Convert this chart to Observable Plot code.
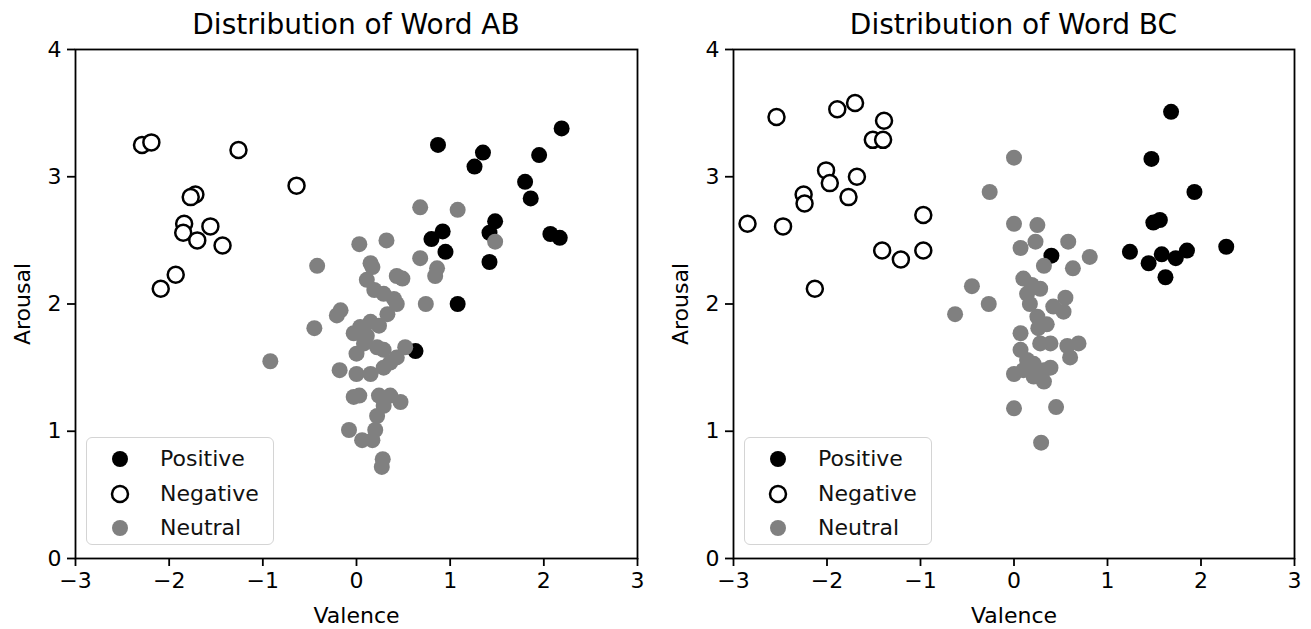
<!DOCTYPE html>
<html>
<head>
<meta charset="utf-8">
<script src="https://cdn.jsdelivr.net/npm/d3@7"></script>
<script src="https://cdn.jsdelivr.net/npm/@observablehq/plot@0.6"></script>
<style>
  html, body { margin: 0; padding: 0; background: #fff; }
  #root { position: relative; width: 1311px; height: 629px; overflow: hidden; font-family: "DejaVu Sans", sans-serif; }
  .panel { position: absolute; top: 0; height: 629px; }
  .title { position: absolute; top: 9px; font-size: 28px; line-height: 32px; color: #000; white-space: nowrap; transform: translateX(-50%); }
  .legend { position: absolute; left: 86px; top: 437px; width: 186px; height: 106px; border: 1.5px solid #d4d4d4; border-radius: 6px; background: rgba(255,255,255,0.85); }
  .legend .item { position: absolute; left: 0; height: 30px; font-size: 22px; line-height: 30px; color: #111; }
  .legend svg { position: absolute; left: 22px; top: 4px; }
  .legend span { position: absolute; left: 73px; top: 0; white-space: nowrap; }
  svg.plot { position: absolute; top: 0; left: 0; }
</style>
</head>
<body>
<div id="root"></div>
<script>
// ---------- data ----------
const categories = ["Positive", "Negative", "Neutral"];
const titles = ["Distribution of Word AB", "Distribution of Word BC"];
const xLabel = "Valence";
const yLabel = "Arousal";
const xTicks = [-3, -2, -1, 0, 1, 2, 3];
const yTicks = [0, 1, 2, 3, 4];

// Word AB
const abPositiveV = [0.87, 1.35, 1.26, 2.19, 1.95, 1.80, 1.86, 1.48, 1.42, 0.92, 0.80, 0.95, 1.42, 2.07, 2.17, 1.08, 0.63];
const abPositiveA = [3.25, 3.19, 3.08, 3.38, 3.17, 2.96, 2.83, 2.65, 2.56, 2.57, 2.51, 2.41, 2.33, 2.55, 2.52, 2.00, 1.63];
const abNegativeV = [-2.29, -2.19, -1.26, -0.64, -1.72, -1.77, -1.84, -1.85, -1.56, -1.70, -1.43, -1.93, -2.09];
const abNegativeA = [3.25, 3.27, 3.21, 2.93, 2.86, 2.84, 2.63, 2.56, 2.61, 2.50, 2.46, 2.23, 2.12];
const abNeutralV = [0.68, 1.08, 1.48, 0.03, 0.32, -0.42, 0.68, 0.86, 0.84, 0.74, -0.45,
  0.15, 0.17, 0.11, 0.43, 0.49, 0.19, 0.29, 0.40, 0.43, 0.33, -0.17, -0.21,
  -0.03, 0.04, 0.15, 0.24, 0.11, 0.08, 0.22, 0.29, 0.00, 0.52, 0.43, 0.36, 0.29, 0.15, 0.00, -0.18,
  -0.03, 0.03, 0.24, 0.36, 0.47, 0.29, 0.22, 0.20, -0.08, 0.06, 0.17, 0.28, 0.27, -0.92];
const abNeutralA = [2.76, 2.74, 2.49, 2.47, 2.50, 2.30, 2.36, 2.28, 2.22, 2.00, 1.81,
  2.32, 2.29, 2.19, 2.22, 2.20, 2.11, 2.08, 2.04, 2.00, 1.92, 1.95, 1.91,
  1.77, 1.82, 1.86, 1.83, 1.75, 1.69, 1.66, 1.64, 1.61, 1.66, 1.58, 1.54, 1.50, 1.45, 1.45, 1.48,
  1.27, 1.28, 1.28, 1.28, 1.23, 1.20, 1.12, 1.01, 1.01, 0.93, 0.93, 0.78, 0.72, 1.55];

// Word BC
const bcPositiveV = [1.68, 1.47, 1.93, 1.49, 1.56, 1.24, 1.44, 1.58, 1.73, 1.85, 2.27, 1.62, 0.40];
const bcPositiveA = [3.51, 3.14, 2.88, 2.64, 2.66, 2.41, 2.32, 2.39, 2.36, 2.42, 2.45, 2.21, 2.38];
const bcNegativeV = [-2.54, -1.89, -1.70, -1.39, -1.51, -1.40, -2.01, -1.97, -1.68, -2.25, -2.24, -1.77, -2.85, -2.47, -0.97, -1.41, -1.21, -0.97, -2.13];
const bcNegativeA = [3.47, 3.53, 3.58, 3.44, 3.29, 3.29, 3.05, 2.95, 3.00, 2.86, 2.79, 2.84, 2.63, 2.61, 2.70, 2.42, 2.35, 2.42, 2.12];
const bcNeutralV = [0.00, -0.26, 0.00, 0.25, 0.07, 0.23, 0.58, 0.81, 0.32, 0.63, -0.45, -0.27, -0.63,
  0.10, 0.19, 0.28, 0.14, 0.17, 0.55, 0.53, 0.42, 0.25, 0.35, 0.26, 0.07, 0.39, 0.28, 0.57, 0.69, 0.60,
  0.07, 0.14, 0.00, 0.21, 0.32, 0.39, 0.32, 0.10, 0.21, 0.00, 0.45, 0.29];
const bcNeutralA = [3.15, 2.88, 2.63, 2.62, 2.44, 2.49, 2.49, 2.37, 2.30, 2.28, 2.14, 2.00, 1.92,
  2.20, 2.15, 2.12, 2.08, 2.00, 2.05, 1.94, 1.98, 1.90, 1.84, 1.81, 1.77, 1.69, 1.69, 1.67, 1.69, 1.58,
  1.64, 1.56, 1.45, 1.53, 1.48, 1.50, 1.39, 1.48, 1.43, 1.18, 1.19, 0.91];

// ---------- styles per category ----------
const catStyle = {
  Positive: {fill: "#000000", stroke: "none", strokeWidth: 0},
  Negative: {fill: "#ffffff", stroke: "#000000", strokeWidth: 2.5},
  Neutral:  {fill: "#808080", stroke: "none", strokeWidth: 0}
};

function rows(vs, as) { return vs.map((v, i) => ({v, a: as[i]})); }

const panels = [
  {title: titles[0], left: 0, width: 655, marginRight: 18,
   data: {Positive: rows(abPositiveV, abPositiveA), Negative: rows(abNegativeV, abNegativeA), Neutral: rows(abNeutralV, abNeutralA)}},
  {title: titles[1], left: 658, width: 653, marginRight: 17,
   data: {Positive: rows(bcPositiveV, bcPositiveA), Negative: rows(bcNegativeV, bcNegativeA), Neutral: rows(bcNeutralV, bcNeutralA)}}
];

const root = document.getElementById("root");
const marginLeft = 75, marginTop = 49, marginBottom = 71, H = 629;
const fmt = d3.format("d");

for (const p of panels) {
  const div = document.createElement("div");
  div.className = "panel";
  div.style.left = p.left + "px";
  div.style.width = p.width + "px";
  root.appendChild(div);

  const chart = Plot.plot({
    width: p.width, height: H,
    marginLeft, marginRight: p.marginRight, marginTop, marginBottom,
    style: {fontFamily: "DejaVu Sans", fontSize: "22px", color: "#000", background: "transparent", overflow: "visible"},
    x: {domain: [-3, 3]},
    y: {domain: [0, 4]},
    marks: [
      ...categories.map(c => Plot.dot(p.data[c], {x: "v", y: "a", r: 8, fill: catStyle[c].fill, stroke: catStyle[c].stroke, strokeWidth: catStyle[c].strokeWidth})),
      Plot.frame({stroke: "#000", strokeWidth: 1.8}),
      Plot.axisX({ticks: xTicks, tickFormat: fmt, tickSize: 8, tickPadding: 6, strokeWidth: 1.8, fontSize: 22,
        label: xLabel, labelAnchor: "center", labelArrow: "none", labelOffset: 64}),
      Plot.axisY({ticks: yTicks, tickFormat: fmt, tickSize: 8, tickPadding: 6, strokeWidth: 1.8, fontSize: 22,
        label: yLabel, labelAnchor: "center", labelArrow: "none", labelOffset: 61})
    ]
  });
  chart.classList.add("plot");
  div.appendChild(chart);

  const t = document.createElement("div");
  t.className = "title";
  t.textContent = p.title;
  t.style.left = (marginLeft + (p.width - marginLeft - p.marginRight) / 2) + "px";
  div.appendChild(t);

  const lg = document.createElement("div");
  lg.className = "legend";
  categories.forEach((c, i) => {
    const it = document.createElement("div");
    it.className = "item";
    it.style.top = (6 + i * 34.5) + "px";
    const s = catStyle[c];
    it.innerHTML = `<svg width="22" height="22"><circle cx="11" cy="11" r="8" fill="${s.fill}" stroke="${s.stroke}" stroke-width="${s.strokeWidth}"/></svg><span>${c}</span>`;
    lg.appendChild(it);
  });
  div.appendChild(lg);
}
</script>
</body>
</html>
